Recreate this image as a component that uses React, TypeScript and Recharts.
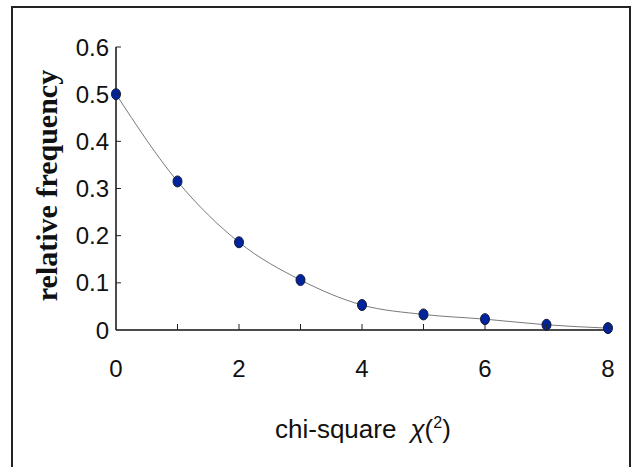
import { Line, LineChart, XAxis, YAxis } from 'recharts';

const chiSquare = [0, 1, 2, 3, 4, 5, 6, 7, 8];
const relFreq = [0.5, 0.315, 0.186, 0.106, 0.053, 0.033, 0.023, 0.011, 0.004];
const yTicks = [0, 0.1, 0.2, 0.3, 0.4, 0.5, 0.6];
const xLabeled = [0, 2, 4, 6, 8];

const data = chiSquare.map((x, i) => ({ x, y: relFreq[i] }));

const tickFont = { fontFamily: 'Liberation Sans, Arial, sans-serif', fontSize: 24, fill: '#111' };

const XTick = (props: any) => {
  const { x, y, payload } = props;
  const v = payload.value;
  return (
    <g>
      {v > 0 && <line x1={x} y1={y} x2={x} y2={y - 6} stroke="#222" strokeWidth={1} />}
      {xLabeled.includes(v) && (
        <text x={x} y={y + 47} textAnchor="middle" {...tickFont}>
          {v}
        </text>
      )}
    </g>
  );
};

const YTick = (props: any) => {
  const { x, y, payload } = props;
  const v = payload.value;
  return (
    <g>
      {v > 0 && <line x1={x} y1={y} x2={x + 5} y2={y} stroke="#222" strokeWidth={1} />}
      <text x={x - 7} y={y + 8.5} textAnchor="end" {...tickFont}>
        {v === 0 ? '0' : v.toFixed(1)}
      </text>
    </g>
  );
};

const Dot = (props: any) => {
  const { cx, cy } = props;
  if (cx == null || cy == null) return null;
  return <ellipse cx={cx} cy={cy} rx={4.5} ry={5.5} fill="#00249c" stroke="#141a3c" strokeWidth={1} />;
};

export default function App() {
  return (
    <div style={{ position: 'fixed', left: 0, top: 0, width: 633, height: 467, background: '#fff', overflow: 'hidden' }}>
      <div style={{ position: 'absolute', left: 11, top: 6, width: 616, height: 480, border: '2px solid #222' }} />
      <LineChart width={633} height={467} data={data} margin={{ top: 47, right: 25, left: 0, bottom: 0 }}>
        <XAxis
          dataKey="x"
          type="number"
          domain={[0, 8]}
          ticks={chiSquare}
          interval={0}
          height={137}
          tickSize={0}
          tickMargin={0}
          tickLine={false}
          axisLine={{ stroke: '#111', strokeWidth: 1.5 }}
          tick={<XTick />}
        />
        <YAxis
          type="number"
          domain={[0, 0.6]}
          ticks={yTicks}
          interval={0}
          width={116}
          tickSize={0}
          tickMargin={0}
          tickLine={false}
          axisLine={{ stroke: '#111', strokeWidth: 1.5 }}
          tick={<YTick />}
        />
        <Line
          dataKey="y"
          type="monotone"
          stroke="#7a7a7a"
          strokeWidth={1}
          dot={<Dot />}
          activeDot={false}
          isAnimationActive={false}
        />
      </LineChart>
      <svg width={633} height={467} style={{ position: 'absolute', left: 0, top: 0, pointerEvents: 'none' }}>
        <text
          x={57}
          y={185.5}
          transform="rotate(-90, 57, 185.5)"
          textAnchor="middle"
          fontFamily="Liberation Serif, Times New Roman, serif"
          fontWeight="bold"
          fontSize={30}
          fill="#111"
        >
          relative frequency
        </text>
        <text x={275} y={438} fontFamily="Liberation Sans, Arial, sans-serif" fontSize={26} fill="#111">
          chi-square
          <tspan dx={14} fontStyle="italic">χ</tspan>
          <tspan>(</tspan>
          <tspan fontSize={16} dy={-10}>2</tspan>
          <tspan dy={10}>)</tspan>
        </text>
      </svg>
    </div>
  );
}
